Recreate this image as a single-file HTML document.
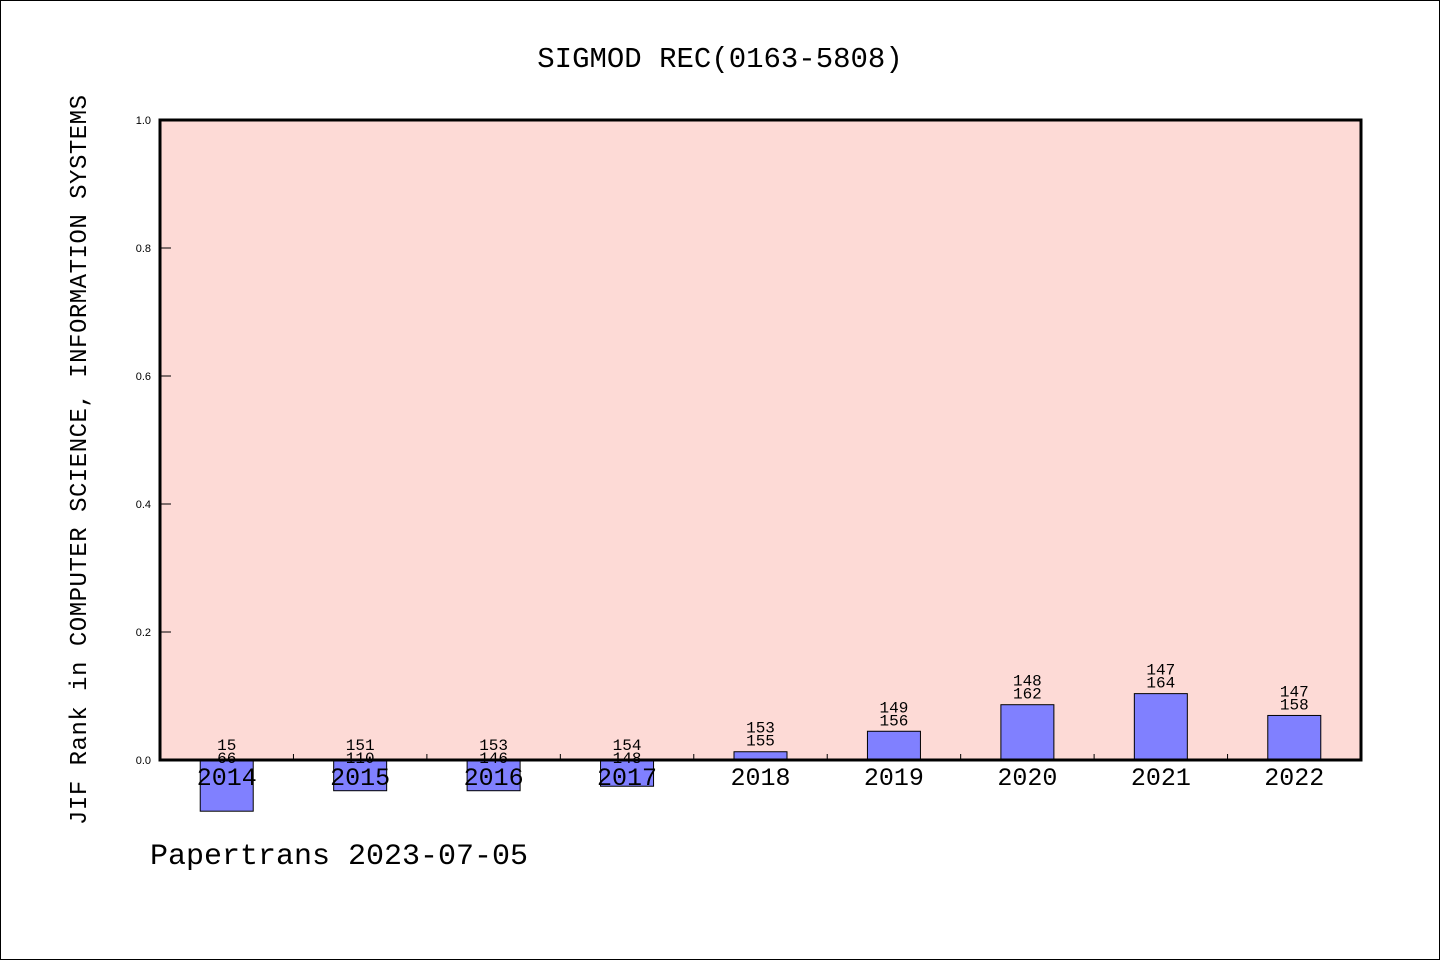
<!DOCTYPE html>
<html><head><meta charset="utf-8"><style>
body{margin:0;background:#fff}
svg text{font-family:"Liberation Mono","DejaVu Sans Mono",monospace;fill:#000}
</style></head><body>
<svg id="chart" width="1440" height="960" xmlns="http://www.w3.org/2000/svg">
<rect x="0.5" y="0.5" width="1439" height="959" fill="#fff" stroke="#000"/>
<text x="720" y="67" font-size="29" text-anchor="middle">SIGMOD REC(0163-5808)</text>
<text transform="translate(86,460) rotate(-90)" font-size="24" text-anchor="middle" textLength="730" lengthAdjust="spacing">JIF Rank in COMPUTER SCIENCE, INFORMATION SYSTEMS</text>
<text x="150" y="864" font-size="30">Papertrans 2023-07-05</text>
<rect x="160" y="120" width="1201" height="640" fill="#fddad6"/>
<g id="ticks"></g>
<g id="bars"></g>
<rect x="160" y="120" width="1201" height="640" fill="none" stroke="#000" stroke-width="3"/>
<g id="labels"></g>
</svg>
<script>
const years=["2014","2015","2016","2017","2018","2019","2020","2021","2022"];
const values=[-0.08,-0.048,-0.048,-0.041,0.0129,0.0449,0.0864,0.1037,0.0696];
const ranks=["15","151","153","154","153","149","148","147","147"];
const totals=["66","110","146","148","155","156","162","164","158"];
const yTicks=[0,0.2,0.4,0.6,0.8,1.0];
const NS="http://www.w3.org/2000/svg";
const X0=160,W=1201,Y0=760,H=640;
const bw=W/years.length;
const y=v=>Y0-v*H;
const xc=i=>X0+bw*(i+0.5);
function mk(t,a,p){const e=document.createElementNS(NS,t);for(const k in a)e.setAttribute(k,a[k]);p.appendChild(e);return e;}
const tg=document.getElementById('ticks'),bg=document.getElementById('bars'),lg=document.getElementById('labels');
yTicks.forEach(v=>{
 const l=mk('line',{x1:X0,x2:X0+11,y1:y(v),y2:y(v),stroke:'#000','stroke-width':1},tg);
 
 
 const t=mk('text',{x:151,y:y(v)+4,'font-size':11,'text-anchor':'end',style:'font-family:"Liberation Sans",sans-serif'},lg);
 t.textContent=v.toFixed(1);
 
 
});
for(let i=1;i<years.length;i++){
 const l=mk('line',{x1:X0+bw*i,x2:X0+bw*i,y1:Y0,y2:Y0-6,stroke:'#000','stroke-width':1},tg);
 
 
}
years.forEach((yr,i)=>{
 const v=values[i],top=Math.min(y(v),Y0),h=Math.abs(y(v)-Y0);
 const r=mk('rect',{x:xc(i)-26.5,y:top,width:53,height:h,fill:'#8080ff',stroke:'#000','stroke-width':1},bg);
 
 
 const ty=Math.min(y(v),Y0);
 const off=v<0?9:0;
 const a=mk('text',{x:xc(i),y:ty-19+off,'font-size':16,'text-anchor':'middle'},lg);
 a.textContent=ranks[i];
 
 
 const b=mk('text',{x:xc(i),y:ty-6+off,'font-size':16,'text-anchor':'middle'},lg);
 b.textContent=totals[i];
 
 
 const c=mk('text',{x:xc(i),y:785,'font-size':25,'text-anchor':'middle'},lg);
 c.textContent=yr;
 
 
});
</script>
</body></html>
